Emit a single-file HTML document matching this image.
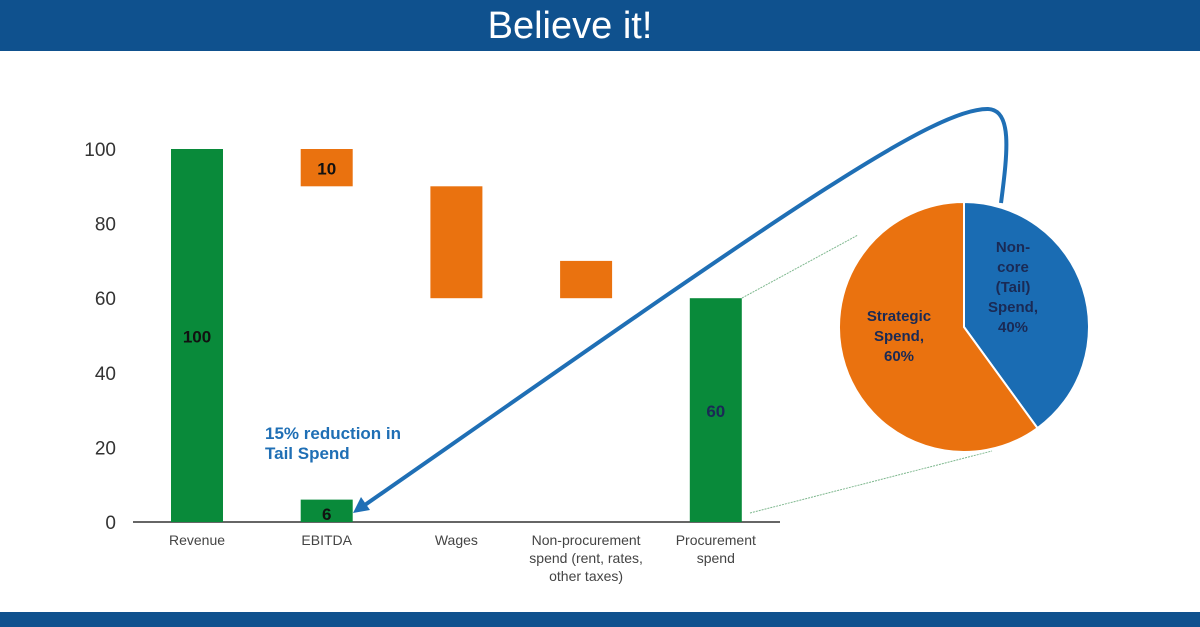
<!DOCTYPE html>
<html><head><meta charset="utf-8"><style>
body{margin:0;width:1200px;height:627px;overflow:hidden;background:#fff;font-family:"Liberation Sans",sans-serif}
#hdr{position:absolute;left:0;top:0;width:1200px;height:51px;background:#0f518e;color:#fff;font-size:38px;text-align:center;line-height:52px}
#ftr{position:absolute;left:0;top:612px;width:1200px;height:15px;background:#0f518e}
svg{position:absolute;left:0;top:0}
</style></head><body>
<div id="hdr"><span style="margin-left:-60px">Believe it!</span></div>
<div id="ftr"></div>
<svg id="c" width="1200" height="627"></svg>
<script>
const categories=["Revenue","EBITDA","Wages","Non-procurement|spend (rent, rates,|other taxes)","Procurement|spend"];
const barStarts=[0,90,60,60,0];
const barEnds=[100,100,90,70,60];
const barKinds=["total","delta","delta","delta","total"];
const barLabels=["100","10","","","60"];
const ebitdaNew=[0,6];
const yTicks=[0,20,40,60,80,100];
const pieLabels=["Non-core (Tail) Spend, 40%","Strategic Spend, 60%"];
const pieValues=[40,60];
const NS="http://www.w3.org/2000/svg";
const svg=document.getElementById('c');
const y=v=>522-v*3.73;
const x=i=>197+i*129.7;
const bw=52;
function mk(t,a,p){const e=document.createElementNS(NS,t);for(const k in a)e.setAttribute(k,a[k]);(p||svg).appendChild(e);return e;}
yTicks.forEach(t=>{const e=mk('text',{x:116,y:y(t)+7,'text-anchor':'end','font-size':19,fill:'#333'});e.textContent=t;

});
const ax=mk('line',{x1:133,x2:780,y1:522,y2:522,stroke:'#333','stroke-width':1.5});


categories.forEach((c,i)=>{
 const r=mk('rect',{x:x(i)-bw/2,y:y(barEnds[i]),width:bw,height:y(barStarts[i])-y(barEnds[i]),fill:barKinds[i]=='total'?'#098a3a':'#ea720f'});
 
 
 if(barLabels[i]){const h=y(barStarts[i])-y(barEnds[i]);const ty=barKinds[i]=='total'?y((barStarts[i]+barEnds[i])/2)+7:y(barEnds[i])+h/2+7;
  const t=mk('text',{x:x(i),y:ty,'text-anchor':'middle','font-size':17,'font-weight':'bold',fill:barKinds[i]=='total'&&i==4?'#1a2a55':'#111'});t.textContent=barLabels[i];
  
  }
 c.split('|').forEach((ln,j)=>{const t=mk('text',{x:x(i),y:545+j*18,'text-anchor':'middle','font-size':14,fill:'#444'});t.textContent=ln;
  
  });
});
const eb=mk('rect',{x:x(1)-bw/2,y:y(ebitdaNew[1]),width:bw,height:y(ebitdaNew[0])-y(ebitdaNew[1]),fill:'#098a3a'});


const et=mk('text',{x:x(1),y:520,'text-anchor':'middle','font-size':17,'font-weight':'bold',fill:'#111'});et.textContent=ebitdaNew[1];


['15% reduction in','Tail Spend'].forEach((s,j)=>{const t=mk('text',{x:265,y:439+j*20,'font-size':17,'font-weight':'bold',fill:'#1f6fb5'});t.textContent=s;

});
// pie
const cx=964,cy=327,R=125;let a0=0;const tot=pieValues.reduce((a,b)=>a+b,0);
const cols=['#1a6cb3','#ea720f'];
pieValues.forEach((v,i)=>{const a1=a0+v/tot*2*Math.PI;
 const p=(a)=>[cx+R*Math.sin(a),cy-R*Math.cos(a)];const [x0,y0]=p(a0),[x1,y1]=p(a1);
 const s=mk('path',{d:`M${cx},${cy}L${x0},${y0}A${R},${R} 0 ${a1-a0>Math.PI?1:0} 1 ${x1},${y1}Z`,fill:cols[i],stroke:'#fff','stroke-width':2});
 
 
 a0=a1;});
[['Non-','core','(Tail)','Spend,','40%'],['Strategic','Spend,','60%']].forEach((ls,i)=>{
 const bx=i==0?1013:899, by=i==0?252:321;
 ls.forEach((s,j)=>{const t=mk('text',{x:bx,y:by+j*20,'text-anchor':'middle','font-size':15,'font-weight':'bold',fill:'#1a2a55'});t.textContent=s;
 
 });});
const d1=mk('line',{x1:742,y1:298,x2:858,y2:235,stroke:'#7fb88f','stroke-width':1,'stroke-dasharray':'2,1'});

const d2=mk('line',{x1:750,y1:513,x2:992,y2:451,stroke:'#7fb88f','stroke-width':1,'stroke-dasharray':'2,1'});

const ar=mk('path',{d:'M1001,203 C1008,150 1012,110 988,109 C930,108 760,230 362,507',fill:'none',stroke:'#1f6fb5','stroke-width':4});

const ah=mk('path',{d:'M353,513 L361,497 L370,510 Z',fill:'#1f6fb5'});

</script>
</body></html>
